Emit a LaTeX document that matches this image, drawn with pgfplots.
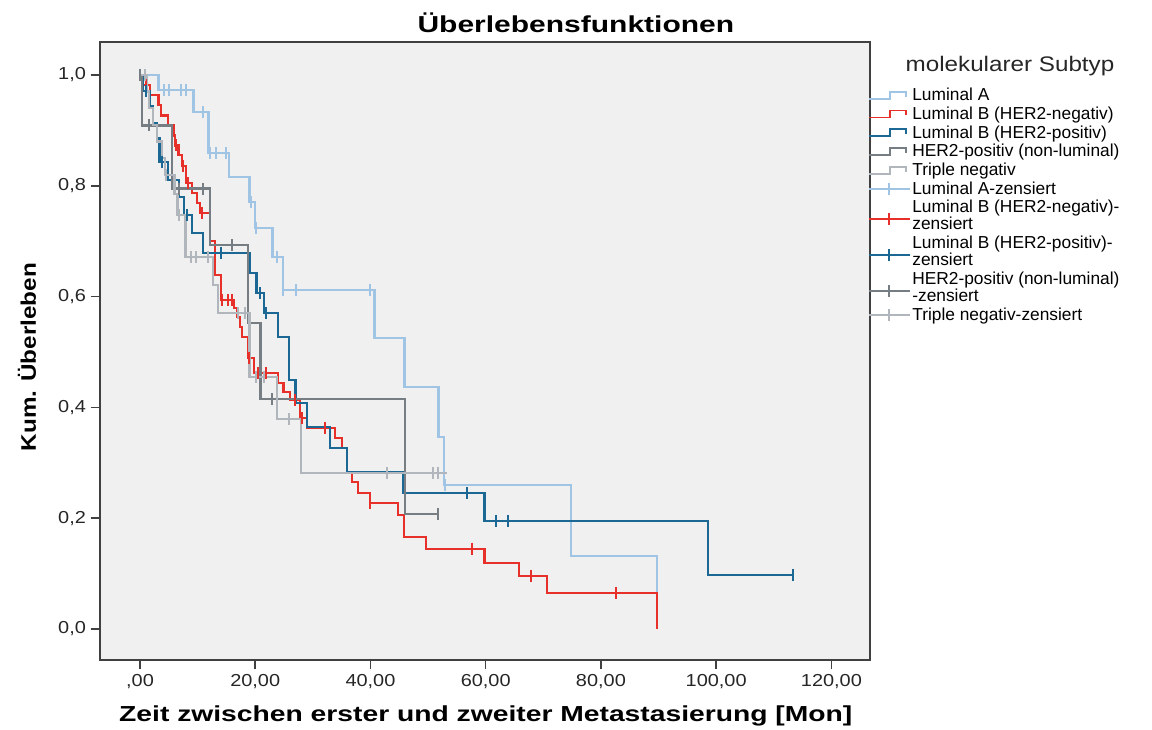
\documentclass[border=0pt]{standalone}
\usepackage{fontspec}
\usepackage{pgfplots}
\pgfplotsset{compat=1.18}
\setmainfont{Liberation Sans}
\newfontfamily\wfa{Liberation Sans}[FakeStretch=1.3]
\newfontfamily\wfb{Liberation Sans}[FakeStretch=1.15]
\definecolor{cLA}{RGB}{160,196,228}
\definecolor{cLBn}{RGB}{232,48,42}
\definecolor{cLBp}{RGB}{28,104,148}
\definecolor{cHER}{RGB}{118,126,132}
\definecolor{cTN}{RGB}{176,182,187}
\definecolor{bggray}{RGB}{240,240,240}
\pgfplotsset{
  stepleg/.style={const plot mark left, legend image code/.code={\draw[##1, line width=1.3pt] (0pt,-2.6pt) -- (15.75pt,-2.6pt) -- (15.75pt,2.6pt) -- (28pt,2.6pt) -- (28pt,-1pt);}},
  censleg/.style={only marks, mark=|, mark size=4.5pt, mark options={line width=1.5pt}, legend image code/.code={\draw[##1, line width=1.3pt] (0pt,0pt) -- (31pt,0pt); \draw[##1, line width=1.3pt] (15pt,-4.5pt) -- (15pt,4.5pt);}},
  censlegtwo/.style={only marks, mark=|, mark size=4.5pt, mark options={line width=1.5pt}, legend image code/.code={\draw[##1, line width=1.3pt] (0pt,-2.3pt) -- (31pt,-2.3pt); \draw[##1, line width=1.3pt] (15pt,-6.8pt) -- (15pt,2.2pt);}},
}
\begin{document}
\begin{tikzpicture}
\useasboundingbox (-75pt,-51.75pt) rectangle (789pt,495pt);
\begin{axis}[
  name=ax, at={(0,0)}, anchor=south west,
  scale only axis, width=577.5pt, height=463.5pt,
  xmin=-6.94, xmax=126.7, ymin=-0.056, ymax=1.0596,
  axis background/.style={fill=bggray},
  axis line style={line width=1.2pt, black!75},
  xtick={0,20,40,60,80,100,120},
  xticklabels={{,00},{20,00},{40,00},{60,00},{80,00},{100,00},{120,00}},
  ytick={0,0.2,0.4,0.6,0.8,1.0},
  yticklabels={{0,0},{0,2},{0,4},{0,6},{0,8},{1,0}},
  xtick pos=left, ytick pos=left, tick align=outside,
  major tick length=7pt,
  tick style={line width=1.2pt, black!75},
  ticklabel style={font=\wfb\fontsize{13}{15}\selectfont, text=black!85},
  /pgf/number format/assume math mode=true,
  title={Überlebensfunktionen},
  title style={at={(axis description cs:0.618,1.003)}, anchor=base, font=\wfa\bfseries\fontsize{17.3}{20}\selectfont},
  xlabel={Zeit zwischen erster und zweiter Metastasierung [Mon]},
  xlabel style={at={(axis description cs:0.501,-0.1003)}, anchor=base, font=\wfa\bfseries\fontsize{16.3}{19}\selectfont},
  ylabel={Kum. Überleben},
  ylabel style={at={(axis description cs:-0.0948,0.490)}, anchor=center, font=\wfb\bfseries\fontsize{15.8}{19}\selectfont},
  clip mode=individual,
  legend cell align=left,
  legend style={at={(axis description cs:0.997,0.9258)}, anchor=north west, draw=none, fill=none,
    inner sep=0pt, row sep=3.1pt, column sep=1pt,
    font=\fontsize{13}{12.8}\selectfont,
    nodes={inner sep=0pt, align=left}},
  every axis plot/.append style={line width=1.7pt},
]
% ---- step curves ----
\addplot[cLA, stepleg] coordinates {
(0,1.0) (3.2,0.973) (9.3,0.933) (11.9,0.859) (15.4,0.816) (19.0,0.771) (20.0,0.724) (23.0,0.671) (24.8,0.612) (40.7,0.525) (45.9,0.437) (51.8,0.347) (52.8,0.26) (74.8,0.132) (89.7,0.0)};
\addlegendentry{Luminal A}
\addplot[cLBn, stepleg] coordinates {
(0,1.0) (0.3,0.982) (1.8,0.964) (3.2,0.946) (3.7,0.927) (4.9,0.909) (5.8,0.891) (6.1,0.873) (6.7,0.855) (7.3,0.836) (8.0,0.805) (9.0,0.787) (9.9,0.769) (10.4,0.751) (12.2,0.70) (13.0,0.639) (14.0,0.594) (16.3,0.579) (16.8,0.563) (17.3,0.545) (17.7,0.527) (18.8,0.489) (19.8,0.462) (24.0,0.444) (24.9,0.428) (26.0,0.413) (27.8,0.381) (29.0,0.363) (33.8,0.345) (35.0,0.327) (35.9,0.283) (36.8,0.265) (37.8,0.245) (39.9,0.227) (44.8,0.206) (45.8,0.166) (49.7,0.145) (59.8,0.119) (65.8,0.096) (70.7,0.065) (89.7,0.0)};
\addlegendentry{Luminal B (HER2-negativ)}
\addplot[cLBp, stepleg] coordinates {
(0,1.0) (0.5,0.971) (1.8,0.943) (2.3,0.914) (3.0,0.886) (3.4,0.843) (4.9,0.81) (6.8,0.78) (7.7,0.747) (9.0,0.715) (11.0,0.679) (19.1,0.642) (20.2,0.606) (21.5,0.570) (24.0,0.527) (25.9,0.449) (27.0,0.408) (29.0,0.365) (33.0,0.327) (35.9,0.283) (45.6,0.245) (59.8,0.195) (98.6,0.098) (113.4,0.098)};
\addlegendentry{Luminal B (HER2-positiv)}
\addplot[cHER, stepleg] coordinates {
(0,1.0) (0.3,0.909) (5.6,0.795) (12.2,0.693) (18.8,0.552) (20.9,0.415) (46.0,0.207) (51.8,0.207)};
\addlegendentry{HER2-positiv (non-luminal)}
\addplot[cTN, stepleg] coordinates {
(0,1.0) (1.2,0.970) (1.6,0.940) (2.2,0.910) (3.0,0.880) (3.8,0.850) (4.3,0.820) (6.0,0.785) (6.5,0.747) (7.9,0.671) (12.7,0.621) (13.6,0.570) (19.0,0.455) (23.8,0.379) (28.0,0.282) (53.2,0.282)};
\addlegendentry{Triple negativ}
% ---- censor marks ----
\addplot[cLA, censleg] coordinates {
(4.1,0.973) (5.0,0.973) (7.2,0.973) (8.0,0.973) (11.0,0.933) (12.2,0.859) (13.2,0.859) (15.0,0.859) (19.3,0.771) (20.1,0.724) (23.8,0.671) (24.9,0.612) (27.0,0.612) (39.9,0.612) (52.9,0.26)};
\addlegendentry{Luminal A-zensiert}
\addplot[cLBn, censlegtwo] coordinates {
(1.0,0.982) (6.3,0.873) (7.5,0.836) (8.3,0.805) (10.8,0.751) (14.2,0.594) (15.3,0.594) (16.0,0.594) (19.0,0.489) (20.5,0.462) (21.8,0.462) (26.9,0.413) (28.1,0.381) (32.1,0.363) (40.0,0.227) (57.7,0.145) (67.9,0.096) (82.6,0.065)};
\addlegendentry{Luminal B (HER2-negativ)-\\zensiert}
\addplot[cLBp, censlegtwo] coordinates {
(1.0,0.971) (3.8,0.843) (8.2,0.747) (14.0,0.679) (20.9,0.606) (21.9,0.570) (56.8,0.245) (61.8,0.195) (63.8,0.195) (113.4,0.098)};
\addlegendentry{Luminal B (HER2-positiv)-\\zensiert}
\addplot[cHER, censlegtwo] coordinates {
(0.0,1.0) (1.5,0.909) (6.8,0.795) (11.0,0.795) (16.0,0.693) (22.9,0.415) (51.8,0.207)};
\addlegendentry{HER2-positiv (non-luminal)\\-zensiert}
\addplot[cTN, censleg] coordinates {
(0.8,1.0) (4.6,0.82) (6.8,0.747) (8.9,0.671) (9.8,0.671) (11.8,0.671) (17.0,0.570) (18.3,0.570) (20.2,0.455) (21.6,0.455) (25.9,0.379) (42.8,0.282) (50.8,0.282) (51.7,0.282)};
\addlegendentry{Triple negativ-zensiert}
\end{axis}
\node[anchor=base, font=\wfb\fontsize{15.8}{18}\selectfont, text=black!85] at (682.5pt,441pt) {molekularer Subtyp};
\end{tikzpicture}
\end{document}
